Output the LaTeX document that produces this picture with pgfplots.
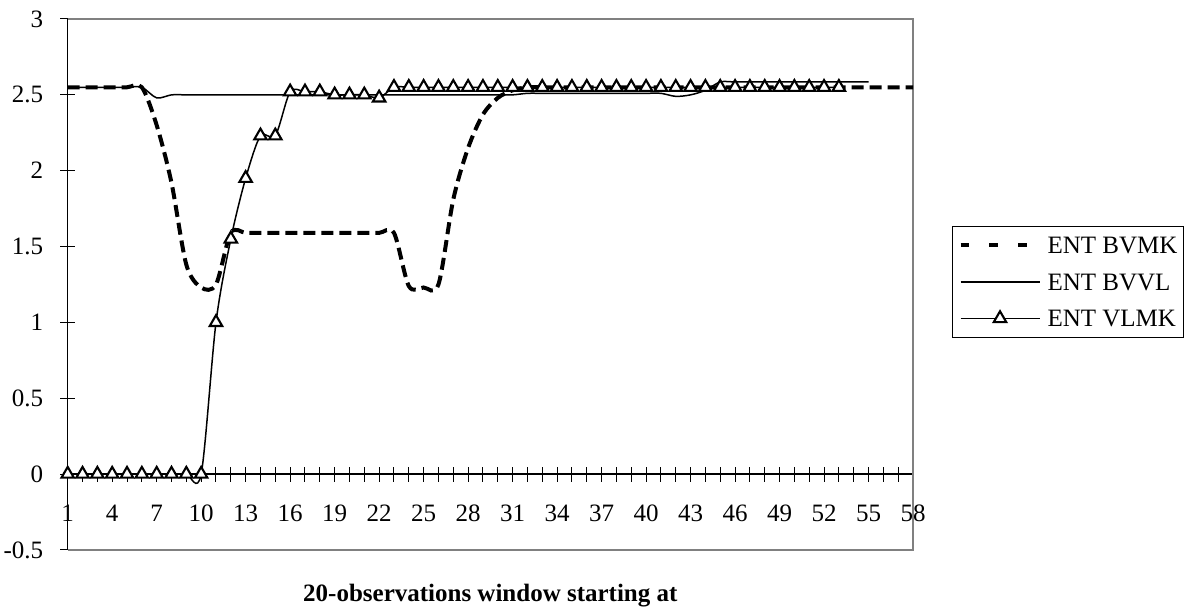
\documentclass[border=0pt]{standalone}
\usepackage{pgfplots}
\pgfplotsset{compat=1.18}
\usepackage{pgfplotstable}
\usepackage{fontspec}
\setmainfont{Liberation Serif}

% ENT BVMK
\pgfplotstableread{
k v
1 2.55
2 2.55
3 2.55
4 2.55
5 2.55
6 2.55
7 2.30
8 1.92
9 1.38
10 1.23
11 1.25
12 1.59
13 1.59
14 1.59
15 1.59
16 1.59
17 1.59
18 1.59
19 1.59
20 1.59
21 1.59
22 1.59
23 1.59
24 1.24
25 1.23
26 1.25
27 1.81
28 2.15
29 2.37
30 2.48
31 2.53
32 2.55
33 2.55
34 2.55
35 2.55
36 2.55
37 2.55
38 2.55
39 2.55
40 2.55
41 2.55
42 2.55
43 2.55
44 2.55
45 2.55
46 2.55
47 2.55
48 2.55
49 2.55
50 2.55
51 2.55
52 2.55
53 2.55
54 2.55
55 2.55
56 2.55
57 2.55
58 2.55
}\bvmk

% ENT BVVL
\pgfplotstableread{
k v
1 2.55
2 2.55
3 2.55
4 2.55
5 2.55
6 2.55
7 2.48
8 2.50
9 2.50
10 2.50
11 2.50
12 2.50
13 2.50
14 2.50
15 2.50
16 2.50
17 2.50
18 2.50
19 2.50
20 2.50
21 2.50
22 2.50
23 2.50
24 2.50
25 2.50
26 2.50
27 2.50
28 2.50
29 2.50
30 2.50
31 2.50
32 2.51
33 2.51
34 2.51
35 2.51
36 2.51
37 2.51
38 2.51
39 2.51
40 2.51
41 2.51
42 2.49
43 2.50
44 2.53
45 2.585
46 2.585
47 2.585
48 2.585
49 2.585
50 2.585
51 2.585
52 2.585
53 2.585
54 2.585
55 2.585
}\bvvl

% ENT VLMK
\pgfplotstableread{
k v
1 0
2 0
3 0
4 0
5 0
6 0
7 0
8 0
9 0
10 0
11 1.00
12 1.55
13 1.95
14 2.23
15 2.23
16 2.52
17 2.52
18 2.52
19 2.50
20 2.50
21 2.50
22 2.48
23 2.55
24 2.55
25 2.55
26 2.55
27 2.55
28 2.55
29 2.55
30 2.55
31 2.55
32 2.55
33 2.55
34 2.55
35 2.55
36 2.55
37 2.55
38 2.55
39 2.55
40 2.55
41 2.55
42 2.55
43 2.55
44 2.55
45 2.55
46 2.55
47 2.55
48 2.55
49 2.55
50 2.55
51 2.55
52 2.55
53 2.55
}\vlmk

\begin{document}
\begin{tikzpicture}
\begin{axis}[
  name=ax,
  scale only axis,
  width=422.7pt, height=265.5pt,
  xmin=1, xmax=58, ymin=-0.5, ymax=3,
  axis x line*=middle,
  axis y line*=left,
  axis line style={black, line width=0.6pt},
  hide obscured x ticks=false,
  hide obscured y ticks=false,
  xtick={1,4,...,58},
  minor xtick={1,...,58},
  ytick={-0.5,0,0.5,1,1.5,2,2.5,3},
  yticklabels={-0.5,0,0.5,1,1.5,2,2.5,3},
  tick align=center,
  major tick length=7.5pt,
  minor tick length=7.5pt,
  tick style={black, line width=0.5pt},
  /pgf/number format/assume math mode=true,
  ticklabel style={font=\fontsize{12.5}{15}\selectfont},
  xticklabel style={anchor=base, yshift=-20pt},
  yticklabel style={xshift=-5pt},
  clip=false,
  legend cell align=left,
  legend style={
    at={(axis description cs:1,0.5)}, anchor=west, xshift=19.5pt, yshift=1.25pt,
    draw=black, line width=0.5pt,
    inner xsep=3pt, inner ysep=3.35pt,
    row sep=5.95pt,
    font=\fontsize{12.5}{15}\selectfont,
    nodes={inner xsep=0pt, inner ysep=2pt, text height=8.3pt, text depth=0pt},
    /tikz/every odd column/.append style={column sep=3pt},
  },
  legend image code/.code={\draw[mark repeat=2,mark phase=2,#1] plot coordinates {(0pt,0pt) (19.75pt,0pt) (39.5pt,0pt)};},
]
\draw[gray, line width=0.65pt] (rel axis cs:0,1) -- (rel axis cs:1,1) -- (rel axis cs:1,0) -- (rel axis cs:0,0);

\addplot[black, line width=2pt, dash pattern=on 6pt off 3pt, smooth,
  legend image post style={dash pattern=on 4.2pt off 10.2pt}] table[x=k, y=v] {\bvmk};
\addplot[black, line width=0.75pt, smooth] table[x=k, y=v] {\bvvl};
\addplot[black, line width=0.75pt, smooth, mark=triangle*, mark size=3.6pt,
  mark options={solid, fill=white, line width=1.05pt}] table[x=k, y=v] {\vlmk};

\legend{ENT BVMK, ENT BVVL, ENT VLMK}

\node[anchor=base, yshift=-26pt, font=\bfseries\fontsize{12.5}{15}\selectfont] at (rel axis cs:0.5,0) {20-observations window starting at};
\end{axis}
\pgfresetboundingbox
\path[use as bounding box] ([shift={(-33.85pt,-29.5pt)}]ax.south west) rectangle ([shift={(135.5pt,9.5pt)}]ax.north east);
\end{tikzpicture}
\end{document}
